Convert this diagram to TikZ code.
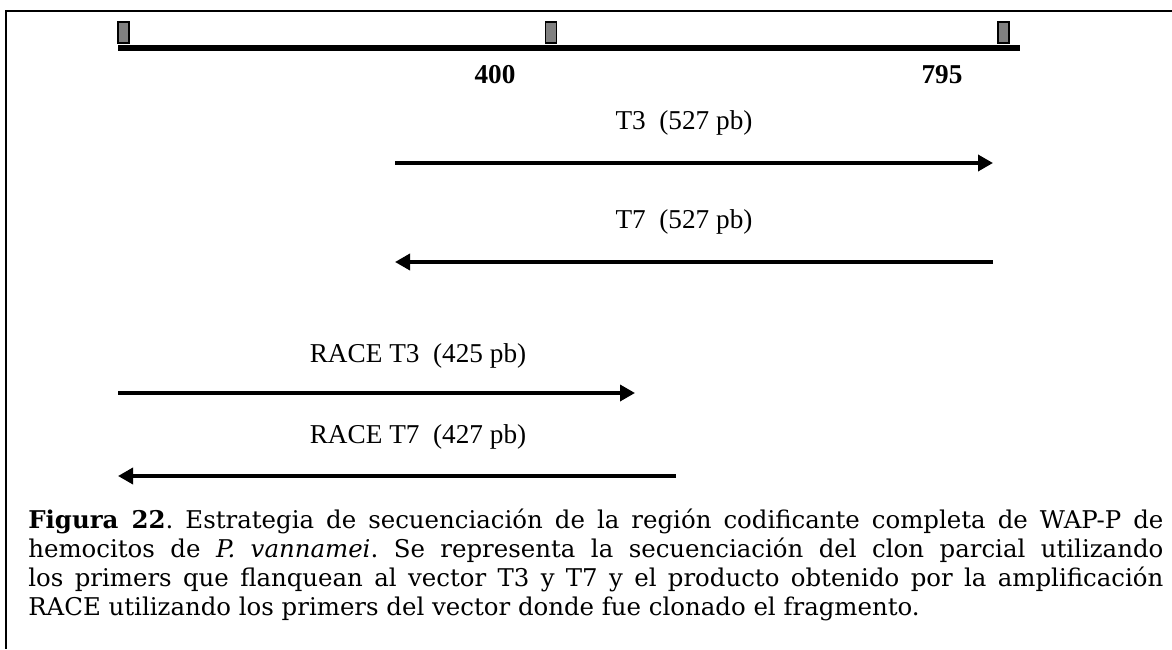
\documentclass[tikz,border=0pt]{standalone}
\usepackage{fontspec}
\setmainfont{Liberation Serif}
\newfontfamily\capfont{DejaVu Serif}
\usepackage{tikz}
\usetikzlibrary{arrows.meta, positioning}
\frenchspacing

\begin{document}
\begin{tikzpicture}[
    seqarrow/.style={line width=2pt, -{Triangle[length=0.3cm, width=0.32cm]}},
    marker/.style={draw, fill=gray, line width=0.6pt, minimum width=0.22cm, minimum height=0.42cm, inner sep=0pt},
    lbl/.style={font=\fontsize{15.5}{18}\selectfont},
    captxt/.style={anchor=base west, inner sep=0pt, font=\capfont\fontsize{13.9}{16}\selectfont}
]
    \useasboundingbox (0,0) rectangle (23.44,12.98);
    % frame
    \draw[line width=1pt] (23.44,12.76) -| (0.12,0);

    % clone map with markers
    \coordinate (barL) at (2.36,12.02);
    \coordinate (barR) at (20.40,12.02);
    \draw[line width=3.3pt] (barL) -- (barR);
    \node[marker] (m1) at (2.47,12.33) {};
    \node[marker] (m2) at (11.02,12.33) {};
    \node[marker] (m3) at (20.07,12.33) {};
    \node[lbl] (p400) at (9.9,11.48) {\textbf{400}};
    \node[lbl] (p795) at (18.84,11.48) {\textbf{795}};

    % partial clone, vector primers
    \node[lbl] (t3) at (13.68,10.52) {T3\ \ (527 pb)};
    \coordinate (t3s) at (7.9,9.72);
    \coordinate (t3e) at (19.86,9.72);
    \draw[seqarrow] (t3s) -- (t3e);

    \node[lbl] (t7) at (13.68,8.54) {T7\ \ (527 pb)};
    \coordinate (t7s) at (19.86,7.74);
    \coordinate (t7e) at (7.9,7.74);
    \draw[seqarrow] (t7s) -- (t7e);

    % RACE products
    \node[lbl] (r3) at (8.36,5.86) {RACE T3\ \ (425 pb)};
    \coordinate (r3s) at (2.36,5.12);
    \coordinate (r3e) at (12.7,5.12);
    \draw[seqarrow] (r3s) -- (r3e);

    \node[lbl] (r7) at (8.36,4.24) {RACE T7\ \ (427 pb)};
    \coordinate (r7s) at (13.52,3.46);
    \coordinate (r7e) at (2.36,3.46);
    \draw[seqarrow] (r7s) -- (r7e);

    % caption
    \node[captxt] (cap1) at (0.56,2.42) {\makebox[22.7cm][s]{\textbf{Figura 22}. Estrategia de secuenciación de la región codificante completa de WAP-P de}};
    \node[captxt] (cap2) at (0.56,1.834) {\makebox[22.7cm][s]{hemocitos de \textit{P. vannamei}. Se representa la secuenciación del clon parcial utilizando}};
    \node[captxt] (cap3) at (0.56,1.248) {\makebox[22.7cm][s]{los primers que flanquean al vector T3 y T7 y el producto obtenido por la amplificación}};
    \node[captxt] (cap4) at (0.56,0.662) {RACE utilizando los primers del vector donde fue clonado el fragmento.};
\end{tikzpicture}
\end{document}
